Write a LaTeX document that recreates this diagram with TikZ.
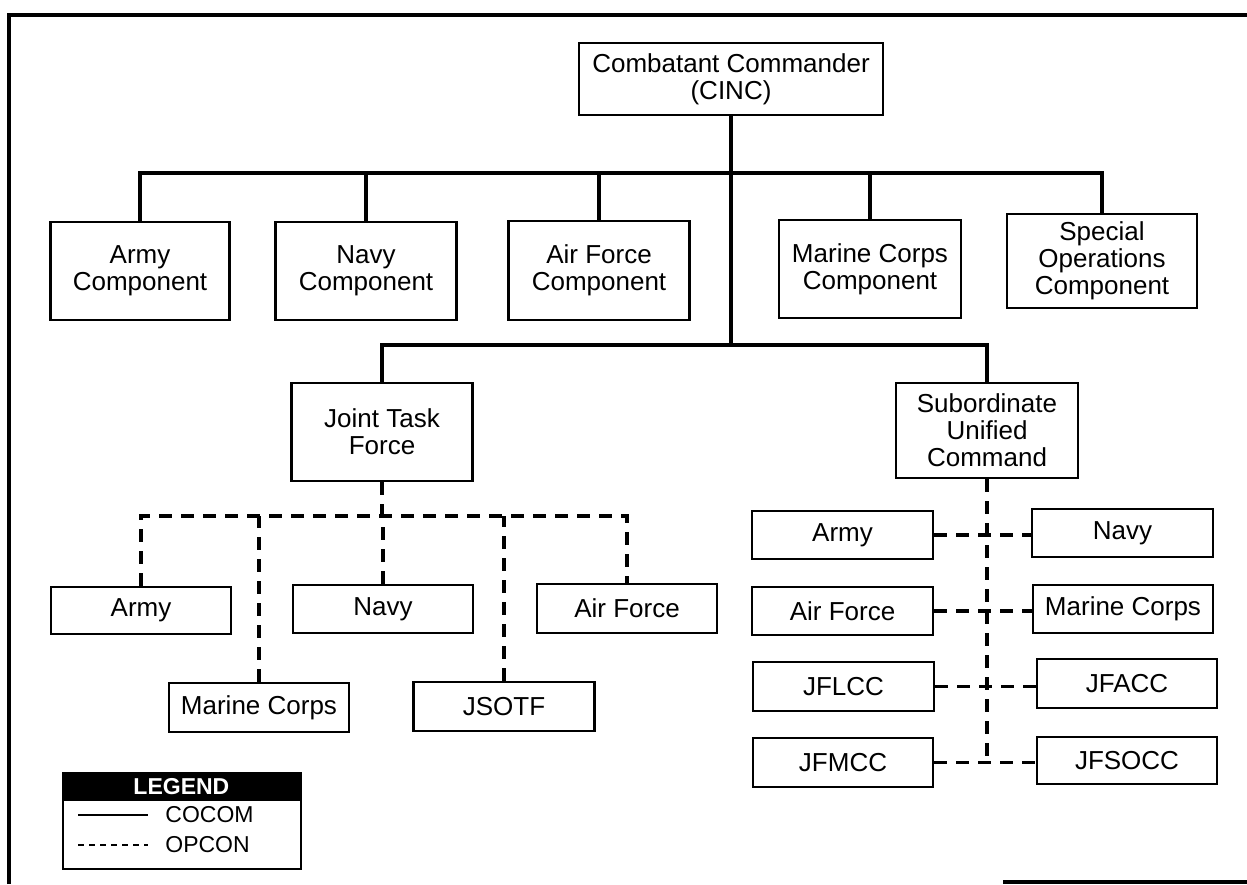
\documentclass[tikz,border=0pt]{standalone}
\usepackage{fontspec}
\setmainfont{Liberation Sans}
\usetikzlibrary{calc}
\begin{document}
\begin{tikzpicture}[x=0.5pt,y=-0.5pt,
  box/.style={draw,line width=1.4pt,align=center,inner sep=0pt,font=\fontsize{13}{13.5}\selectfont},
  sz/.style n args={2}{minimum width=#1*0.5pt,minimum height=#2*0.5pt},
  cocom/.style={line width=1.7pt},
  opcon/.style={line width=1.7pt,dash pattern=on 6.5pt off 4.5pt},
  frameline/.style={line width=2.4pt},
  legtext/.style={anchor=west,inner sep=0pt,font=\fontsize{11.5}{12}\selectfont}]
\useasboundingbox (0,0) rectangle (1247,884);
% frame
\draw[frameline] (9,884) -- (9,15) -- (1247,15);
\draw[frameline] (1003,882) -- (1247,882);
% top level
\node[box,sz={304}{72}] (cinc) at (731,79) {Combatant Commander\\(CINC)};
\node[box,sz={179}{98}] (armyc) at (140,271) {Army\\Component};
\node[box,sz={181}{98}] (navyc) at (366,271) {Navy\\Component};
\node[box,sz={181}{99}] (afc) at (599,270.5) {Air Force\\Component};
\node[box,sz={182}{98}] (mcc) at (870,269) {Marine Corps\\Component};
\node[box,sz={190}{94}] (soc) at (1102,261) {Special\\Operations\\Component};
\node[box,sz={181}{98}] (jtf) at (382,432) {Joint Task\\Force};
\node[box,sz={182}{95}] (suc) at (987,430.5) {Subordinate\\Unified\\Command};
% JTF children
\node[box,sz={180}{47}] (jarmy) at (141,610.5) {Army};
\node[box,sz={180}{48}] (jnavy) at (383,609) {Navy};
\node[box,sz={180}{49}] (jaf) at (627,608.5) {Air Force};
\node[box,sz={180}{49}] (jmc) at (259,707.5) {Marine Corps};
\node[box,sz={181}{49}] (jsotf) at (504,706.5) {JSOTF};
% SUC children
\node[box,sz={181}{48}] (sarmy) at (842.5,535) {Army};
\node[box,sz={181}{48}] (snavy) at (1122.5,533) {Navy};
\node[box,sz={181}{48}] (saf) at (842.5,611) {Air Force};
\node[box,sz={180}{48}] (smc) at (1123,609) {Marine Corps};
\node[box,sz={181}{49}] (sjflcc) at (843.5,686.5) {JFLCC};
\node[box,sz={180}{49}] (sjfacc) at (1127,683.5) {JFACC};
\node[box,sz={180}{49}] (sjfmcc) at (843,762.5) {JFMCC};
\node[box,sz={180}{47}] (sjfsocc) at (1127,760.5) {JFSOCC};
% COCOM connectors
\coordinate (topbus) at (0,173);
\coordinate (lowbus) at (0,345);
\draw[cocom] (cinc.south) -- (cinc.south |- lowbus);
\draw[cocom] (armyc.north) -- (armyc.north |- topbus) -- (soc.north |- topbus) -- (soc.north);
\draw[cocom] (navyc.north) -- (navyc.north |- topbus);
\draw[cocom] (afc.north) -- (afc.north |- topbus);
\draw[cocom] (mcc.north) -- (mcc.north |- topbus);
\draw[cocom] (jtf.north) -- (jtf.north |- lowbus) -- (suc.north |- lowbus) -- (suc.north);
% OPCON under JTF
\coordinate (jbus) at (0,516);
\draw[opcon] (jtf.south) -- (jtf.south |- jbus);
\draw[opcon] (jarmy.north) -- (jarmy.north |- jbus) -- (jaf.north |- jbus) -- (jaf.north);
\draw[opcon] (jnavy.north) -- (jnavy.north |- jbus);
\draw[opcon] (jmc.north) -- (jmc.north |- jbus);
\draw[opcon] (jsotf.north) -- (jsotf.north |- jbus);
% OPCON under SUC
\coordinate (send) at (suc.south |- sjfmcc.east);
\draw[opcon] (suc.south) -- (send);
\draw[opcon] (sarmy.east) -- (sarmy.east -| snavy.west);
\draw[opcon] (saf.east) -- (saf.east -| smc.west);
\draw[opcon] (sjflcc.east) -- (sjflcc.east -| sjfacc.west);
\draw[opcon] (sjfmcc.east) -- (sjfmcc.east -| sjfsocc.west);
% legend
\node[draw,line width=0.8pt,anchor=north west,inner sep=0pt,sz={238}{96}] (legbox) at (62,772) {};
\node[fill=black,text=white,anchor=north west,inner sep=0pt,sz={238}{29},font=\bfseries\fontsize{11.5}{11.5}\selectfont] (leghead) at (62,772) {LEGEND};
\coordinate (l1a) at (78,815); \coordinate (l1b) at (148,815);
\coordinate (l2a) at (78,845); \coordinate (l2b) at (148,845);
\draw[line width=1pt] (l1a) -- (l1b);
\draw[line width=1pt,dash pattern=on 3pt off 2.5pt] (l2a) -- (l2b);
\node[legtext] (lcocom) at (165,815) {COCOM};
\node[legtext] (lopcon) at (165,845) {OPCON};
\end{tikzpicture}
\end{document}
